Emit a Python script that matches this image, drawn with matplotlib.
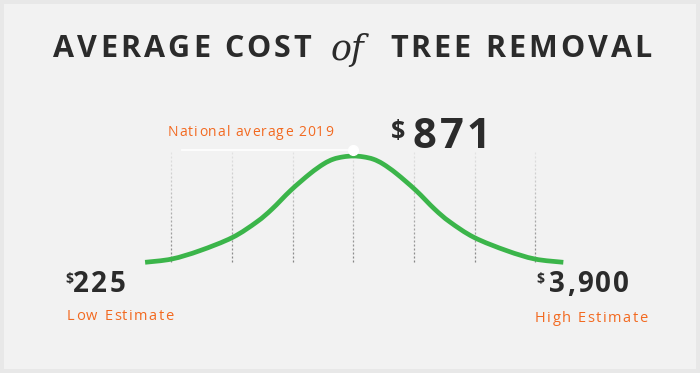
import matplotlib
matplotlib.use('Agg')
import matplotlib.pyplot as plt
import numpy as np
from matplotlib.patches import Rectangle, PathPatch
from matplotlib.path import Path
from matplotlib.collections import LineCollection

# curve: position in std-devs, height relative to peak
curve_x = [-3.43, -2.99, -2.53, -1.99, -1.59, -1.34, -1.03, -0.71, -0.49, -0.33, -0.165,
           0.0, 0.165, 0.33, 0.49, 0.71, 1.03, 1.34, 1.59, 1.99, 2.53, 2.99, 3.46]
curve_y = [0.0, 0.031, 0.109, 0.234, 0.38, 0.5, 0.677, 0.835, 0.925, 0.97, 0.992,
           1.0, 0.992, 0.97, 0.925, 0.835, 0.677, 0.5, 0.38, 0.234, 0.109, 0.031, 0.0]
grid_x = [-3, -2, -1, 0, 1, 2, 3]

title_left = "AVERAGE COST"
title_mid = "of"
title_right = "TREE REMOVAL"
avg_label = "National average 2019"
avg_value = "871"
low_value = "225"
low_label = "Low Estimate"
high_value = "3,900"
high_label = "High Estimate"

W, H = 700, 373
DARK = '#2b2b2b'
ORANGE = '#f26a21'
GREEN = '#3bb54a'

fig = plt.figure(figsize=(7, 3.73), dpi=100)
fig.patch.set_facecolor('#e8e8e8')
fig.patches.append(Rectangle((4 / W, 4 / H), 692 / W, 365 / H, transform=fig.transFigure,
                             facecolor='#f2f2f2', edgecolor='none', zorder=-5))

# axes in "curve units": x px = 353.3 + 60.7*u, y px = 262.3 - 106.3*v
ax = fig.add_axes([0, 0, 1, 1])
ax.set_zorder(2)
ax.set_xlim(-353.3 / 60.7, (W - 353.3) / 60.7)
ax.set_ylim((262.3 - H) / 106.3, 262.3 / 106.3)
ax.axis('off')
ax.patch.set_alpha(0)

# dashed guides, darker at the bottom, fading out toward the top
top = 1.056
n_dash = 28
segs, cols = [], []
for gx in grid_x:
    for i in range(n_dash):
        y0 = top * i / n_dash
        y1 = y0 + top / n_dash * 0.55
        segs.append([(gx, y0), (gx, y1)])
        a = 0.85 - 0.75 * (i / n_dash)
        cols.append((0.45, 0.45, 0.45, a))
ax.add_collection(LineCollection(segs, colors=cols, linewidths=0.9, zorder=1))

ax.plot([-2.82, 0], [1.052, 1.052], color='white', lw=1.2, zorder=2)

# smooth curve through the read points (Catmull-Rom as cubic Bezier)
pts = np.column_stack([curve_x, curve_y])
verts = [pts[0]]
codes = [Path.MOVETO]
for i in range(len(pts) - 1):
    p0 = pts[i - 1] if i > 0 else pts[i]
    p1, p2 = pts[i], pts[i + 1]
    p3 = pts[i + 2] if i + 2 < len(pts) else pts[i + 1]
    verts += [p1 + (p2 - p0) / 6, p2 - (p3 - p1) / 6, p2]
    codes += [Path.CURVE4] * 3
ax.add_patch(PathPatch(Path(verts, codes), facecolor='none', edgecolor=GREEN, lw=3.4,
                       capstyle='butt', joinstyle='round', zorder=3))
ax.plot([0], [1.052], 'o', color='white', ms=7, zorder=4)

renderer = fig.canvas.get_renderer()


def spaced(x, y, s, size, color, weight='bold', spacing=0.0, family='Open Sans', style='normal'):
    # draw text char by char with extra tracking, x,y in pixels
    ref = fig.text(0, 0, 'xx', fontsize=size, family=family, weight=weight, style=style)
    base_w = ref.get_window_extent(renderer).width
    ref.remove()
    cx = x
    for ch in s:
        fig.text(cx / W, 1 - y / H, ch, fontsize=size, color=color, family=family,
                 weight=weight, style=style, va='center', ha='left', zorder=5)
        m = fig.text(0, 0, 'x' + ch + 'x', fontsize=size, family=family, weight=weight, style=style)
        adv = m.get_window_extent(renderer).width - base_w
        m.remove()
        cx += adv + spacing
    return cx


# title
spaced(53, 49, title_left, 22, DARK, spacing=3.1)
fig.text(331 / W, 1 - 50 / H, title_mid, fontsize=25, color=DARK, family='DejaVu Serif',
         style='italic', va='center', ha='left')
spaced(390, 49, title_right, 22, DARK, spacing=3.1)

# national average
spaced(168, 133, avg_label, 10, ORANGE, weight='normal', spacing=1.0)
spaced(391, 131, '$', 18, DARK, spacing=0)
spaced(413, 138, avg_value, 30, DARK, spacing=3.0)

# low / high estimates
spaced(65, 279, '$', 10, DARK, spacing=0)
spaced(73, 284, low_value, 20, DARK, spacing=2.5)
spaced(67, 317, low_label, 10.5, ORANGE, weight='normal', spacing=1.4)

spaced(536, 279, '$', 10, DARK, spacing=0)
spaced(549, 284, high_value, 20, DARK, spacing=2.0)
spaced(535, 318, high_label, 10.5, ORANGE, weight='normal', spacing=1.5)

fig.savefig('out.png', dpi=100, facecolor=fig.get_facecolor())
